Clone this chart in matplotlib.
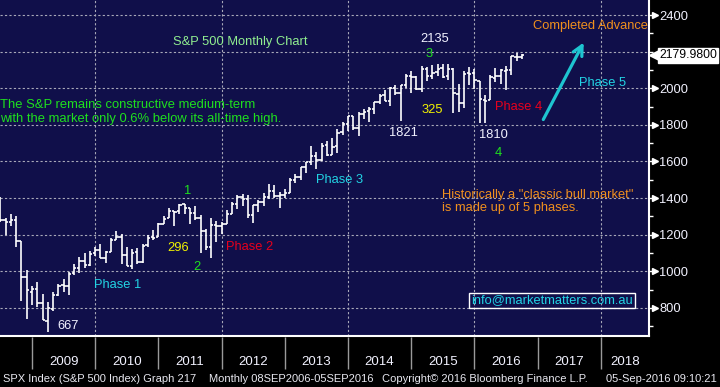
import pandas as pd
import numpy as np
import matplotlib.pyplot as plt

plt.rcParams['font.family'] = ['Liberation Sans', 'DejaVu Sans']

# SPX monthly OHLC bars, Jun 2008 - Sep 2016 (bar drawn at month end)
months = pd.period_range('2008-06', '2016-09', freq='M')

open_ = [1399.6, 1280.0, 1267.4, 1282.8, 1164.2, 968.7, 888.6,
         903.0, 825.4, 729.6, 793.6, 872.7, 923.3, 920.8, 990.2, 1019.5, 1054.9, 1036.2, 1098.9,
         1116.6, 1073.9, 1105.4, 1171.2, 1188.6, 1087.3, 1031.1, 1107.5, 1049.7, 1143.5, 1185.7, 1186.6,
         1257.6, 1289.1, 1328.6, 1329.5, 1365.2, 1345.2, 1320.6, 1292.6, 1219.1, 1131.2, 1251.0, 1246.9,
         1258.9, 1312.5, 1365.9, 1408.5, 1397.9, 1309.9, 1362.3, 1379.3, 1406.5, 1440.9, 1412.2, 1416.2,
         1426.2, 1498.1, 1514.7, 1569.2, 1597.6, 1631.7, 1609.8, 1689.4, 1635.9, 1682.4, 1758.7, 1806.6,
         1845.9, 1782.7, 1857.7, 1874.0, 1884.4, 1923.9, 1962.3, 1929.8, 2004.1, 1971.4, 2018.2, 2065.8,
         2058.9, 1996.7, 2105.2, 2067.6, 2087.4, 2108.6, 2067.0, 2104.5, 1970.1, 1919.7, 2080.8, 2082.9,
         2038.2, 1936.9, 1937.1, 2056.6, 2067.2, 2093.9, 2099.3, 2173.2, 2171.3]
high = [1404.1, 1292.2, 1313.2, 1303.0, 1167.0, 1007.5, 919.0,
        943.9, 875.0, 833.0, 888.7, 930.2, 956.2, 996.7, 1039.5, 1080.2, 1101.4, 1113.7, 1130.4,
        1150.5, 1112.4, 1180.7, 1219.8, 1205.1, 1131.2, 1120.9, 1129.2, 1148.9, 1196.1, 1227.1, 1262.6,
        1302.7, 1344.1, 1332.3, 1366.6, 1370.6, 1345.2, 1356.5, 1307.4, 1229.3, 1292.7, 1277.6, 1269.4,
        1333.5, 1378.0, 1419.2, 1422.4, 1415.3, 1363.5, 1391.7, 1426.7, 1474.5, 1471.0, 1434.3, 1448.0,
        1509.9, 1530.9, 1570.3, 1597.6, 1687.2, 1654.2, 1698.8, 1709.7, 1729.9, 1775.2, 1813.6, 1849.4,
        1850.8, 1867.9, 1884.0, 1897.3, 1924.0, 1968.2, 1991.4, 2005.0, 2019.3, 2018.2, 2075.8, 2093.6,
        2064.4, 2119.6, 2117.5, 2125.9, 2134.7, 2129.9, 2132.8, 2112.7, 2020.9, 2094.3, 2116.5, 2104.3,
        2038.2, 1963.0, 2072.2, 2111.1, 2103.5, 2120.6, 2177.1, 2193.8, 2184.9]
low = [1272.0, 1200.4, 1247.5, 1133.5, 840.0, 741.0, 815.7,
       804.3, 734.5, 666.8, 783.3, 866.1, 888.9, 869.3, 978.5, 991.9, 1020.2, 1029.4, 1085.9,
       1071.6, 1044.5, 1105.4, 1170.7, 1040.8, 1028.3, 1010.9, 1039.7, 1048.2, 1131.9, 1173.0, 1186.6,
       1257.6, 1289.1, 1249.1, 1312.7, 1311.8, 1258.1, 1282.9, 1101.5, 1114.2, 1074.8, 1158.7, 1202.4,
       1258.9, 1312.5, 1340.0, 1357.4, 1292.0, 1266.7, 1325.4, 1354.7, 1396.6, 1403.3, 1343.4, 1398.1,
       1426.2, 1485.0, 1501.5, 1536.0, 1581.3, 1560.3, 1604.6, 1627.5, 1633.4, 1646.5, 1746.2, 1768.0,
       1770.5, 1737.9, 1834.4, 1814.4, 1859.8, 1916.0, 1930.7, 1904.8, 1964.0, 1820.7, 2001.0, 1972.6,
       1988.4, 1980.9, 2039.7, 2048.4, 2067.9, 2056.3, 2044.0, 1867.0, 1871.9, 1893.7, 2019.4, 1993.3,
       1812.3, 1810.1, 1937.1, 2033.8, 2025.9, 1991.7, 2074.0, 2147.6, 2157.1]
close = [1280.0, 1267.4, 1282.8, 1166.4, 968.8, 896.2, 903.3,
         825.9, 735.1, 797.9, 872.8, 919.1, 919.3, 987.5, 1020.6, 1057.1, 1036.2, 1095.6, 1115.1,
         1073.9, 1104.5, 1169.4, 1186.7, 1089.4, 1030.7, 1101.6, 1049.3, 1141.2, 1183.3, 1180.6, 1257.6,
         1286.1, 1327.2, 1325.8, 1363.6, 1345.2, 1320.6, 1292.3, 1218.9, 1131.4, 1253.3, 1246.9, 1257.6,
         1312.4, 1365.7, 1408.5, 1397.9, 1310.3, 1362.2, 1379.3, 1406.6, 1440.7, 1412.2, 1416.2, 1426.2,
         1498.1, 1514.7, 1569.2, 1597.6, 1630.7, 1606.3, 1685.7, 1633.0, 1681.6, 1756.5, 1805.8, 1848.4,
         1782.6, 1859.5, 1872.3, 1884.0, 1923.6, 1960.2, 1930.7, 2003.4, 1972.3, 2018.1, 2067.6, 2058.9,
         1995.0, 2104.5, 2067.9, 2085.5, 2107.4, 2063.1, 2103.8, 1972.2, 1920.0, 2079.4, 2080.4, 2043.9,
         1940.2, 1932.2, 2059.7, 2065.3, 2097.0, 2098.9, 2173.6, 2171.0, 2179.98]

years = list(range(2009, 2019))
grid_years = [2010, 2012, 2014, 2016, 2018]
price_ticks = list(range(800, 2401, 200))
hidden_tick = 2200  # covered by the last-price tag

x = np.array(months.year + months.month / 12.0)
x_min, x_max = 2008.494, 2018.763
y_min, y_max = 647, 2482

bg = '#100f4a'
white = '#f2f2ff'
green = '#1ee01e'
lgreen = '#90ee90'
yellow = '#f2f200'
red = '#e8001c'
cyan = '#22d4e4'
orange = '#f0901e'

fig = plt.figure(figsize=(7.2, 3.87), dpi=100, facecolor='black')
ax = fig.add_axes([0, 51 / 387, 649 / 720, 336 / 387])
ax.set_facecolor(bg)
ax.set_xlim(x_min, x_max)
ax.set_ylim(y_min, y_max)

# OHLC bars
tick = 0.45 / 12
ax.vlines(x, low, high, color='white', lw=1.2)
ax.hlines(open_, x - tick, x, color='white', lw=1.2)
ax.hlines(close, x, x + tick, color='white', lw=1.2)

# grid
ax.set_xticks(grid_years)
ax.set_xticklabels([])
ax.tick_params(axis='x', length=0)
ax.set_yticks(price_ticks)
ax.set_yticklabels(['' if p == hidden_tick else str(p) for p in price_ticks])
ax.set_yticks(list(range(700, 2401, 100)), minor=True)
ax.grid(True, color='#a8a8b8', linestyle=(0, (2, 2)), lw=0.8)
ax.set_axisbelow(True)

# right axis
ax.yaxis.tick_right()
ax.tick_params(axis='y', which='both', colors='white', length=3, width=1, direction='out',
               labelsize=9.3, pad=4.5)
ax.tick_params(axis='y', which='major', labelcolor=white)
ytr = ax.get_yaxis_transform()
shown = [p for p in price_ticks if p != hidden_tick]
ax.plot([1.0 + 6 / 649] * len(shown), shown, marker='>', ms=4, ls='none',
        color='white', transform=ytr, clip_on=False)

for s in ['top', 'left']:
    ax.spines[s].set_visible(False)
ax.spines['right'].set_color('white')
ax.spines['bottom'].set_color('white')
ax.spines['right'].set_linewidth(1.5)
ax.spines['bottom'].set_linewidth(1.5)

# last price tag
ax.plot([1.0 + 6 / 649], [close[-1]], marker='<', ms=8, color='white', transform=ytr, clip_on=False)
ax.text(1.0 + 10 / 649, close[-1], f'{close[-1]:.4f}', transform=ytr, color='black', fontsize=8.8,
        ha='left', va='center',
        bbox=dict(boxstyle='square,pad=0.12', fc='white', ec='white'))

# year axis
xtr = ax.get_xaxis_transform()
ax.vlines(years, -0.003, -0.098, color='#9a9a9a', lw=1, transform=xtr, clip_on=False)
for yr in years:
    xc = yr + 0.5 if yr + 1 <= x_max else (yr + x_max) / 2
    ax.text(xc, -0.077, str(yr), transform=xtr, color=white, fontsize=9.5,
            ha='center', va='center')


def at(px, py):
    # reference pixel position -> axes fraction
    return px / 649, 1 - py / 336


notes = [
    ('S&P 500 Monthly Chart', 173, 42, lgreen, 'left'),
    ('1', 188, 191, green, 'center'),
    ('296', 178, 248, yellow, 'center'),
    ('2', 197, 267, green, 'center'),
    ('Phase 1', 118, 285, cyan, 'center'),
    ('667', 68, 326, white, 'center'),
    ('Phase 2', 250, 247, red, 'center'),
    ('Phase 3', 340, 180, cyan, 'center'),
    ('2135', 435, 39, white, 'center'),
    ('3', 429, 54, green, 'center'),
    ('325', 432, 110, yellow, 'center'),
    ('1821', 403, 133, white, 'center'),
    ('1810', 493, 135, white, 'center'),
    ('4', 498, 153, green, 'center'),
    ('Phase 4', 519, 107, red, 'center'),
    ('Phase 5', 603, 83, cyan, 'center'),
    ('Completed Advance', 590, 26, orange, 'center'),
]
for txt, px, py, col, ha in notes:
    ax.text(*at(px, py), txt, transform=ax.transAxes, color=col, fontsize=9.3, ha=ha, va='center')

ax.text(*at(0, 112), 'The S&P remains constructive medium-term\nwith the market only 0.6% below its all-time high.',
        transform=ax.transAxes, color=green, fontsize=9.4, ha='left', va='center', linespacing=1.25)
ax.text(*at(442, 201.5), 'Historically a "classic bull market"\nis made up of 5 phases.',
        transform=ax.transAxes, color=orange, fontsize=9.3, ha='left', va='center', linespacing=1.2)
ax.text(*at(552, 300.5), 'info@marketmatters.com.au', transform=ax.transAxes, color=cyan, fontsize=9.3,
        ha='center', va='center',
        bbox=dict(boxstyle='square,pad=0.15', fc='none', ec='white', lw=1))

ax.annotate('', xy=at(585, 40), xytext=at(542, 122), xycoords='axes fraction', textcoords='axes fraction',
            arrowprops=dict(arrowstyle='->,head_length=0.7,head_width=0.35', color='#1ec4d0', lw=2.3))

# footer
foot_y = 1 - 379 / 387
for txt, px, ha in [('SPX Index (S&P 500 Index) Graph 217', 3, 'left'),
                    ('Monthly 08SEP2006-05SEP2016', 209, 'left'),
                    ('Copyright\u00a9 2016 Bloomberg Finance L.P.', 382, 'left'),
                    ('05-Sep-2016 09:10:21', 717, 'right')]:
    fig.text(px / 720, foot_y, txt, color='#e8e8f0', fontsize=8.0, ha=ha, va='center')

fig.savefig('out.png', dpi=100, facecolor='black')
